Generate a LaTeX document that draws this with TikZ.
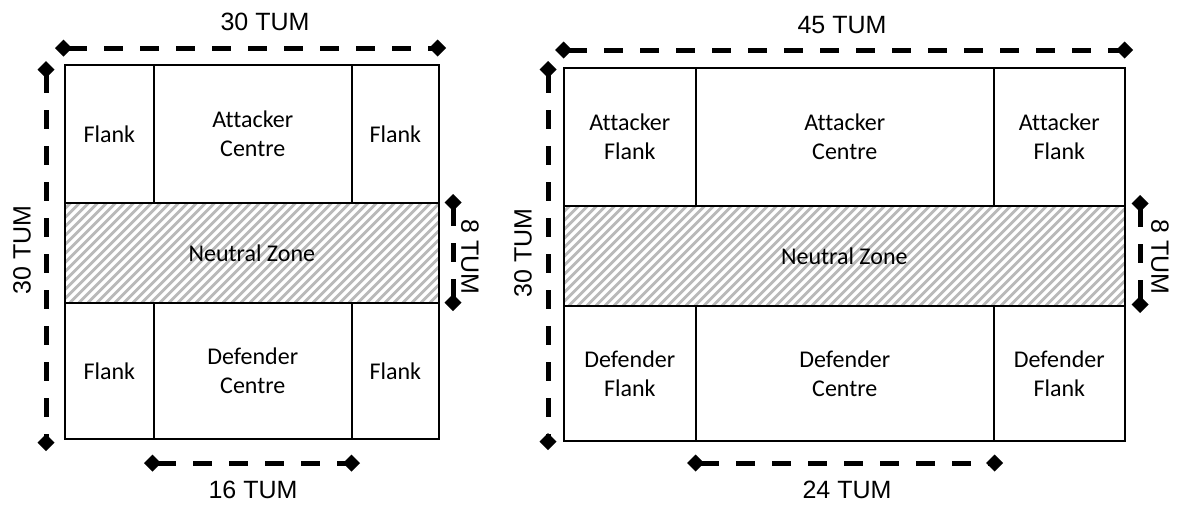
\documentclass[tikz,border=0pt]{standalone}
\usepackage{fontspec}
\setmainfont{Carlito}[Ligatures=NoCommon]
\newfontfamily\dimfont{Liberation Sans}
\usetikzlibrary{arrows.meta}

\tikzset{
  zone/.style={draw,line width=1.6pt,inner sep=0pt,anchor=north west,align=center,
    font=\fontsize{24}{29}\selectfont},
  hatch/.style={line width=2.8pt,gray!55},
  neutral/.style={zone,path picture={
    \foreach \k in {-130,-121,...,580}
      \draw[hatch] ([xshift=\k pt]path picture bounding box.south west) -- ++(130,-130);}},
  dimline/.style={line width=5pt,dash pattern=on 19pt off 17pt,
    {Diamond[length=17pt,width=17pt]}-{Diamond[length=17pt,width=17pt]}},
  dimlabel/.style={font=\dimfont\fontsize{25}{28}\selectfont,inner sep=0pt}
}

\begin{document}
\begin{tikzpicture}[x=1pt,y=-1pt]
\useasboundingbox (0,0) rectangle (1177,504);
% left field
\node[zone,minimum width=89pt,minimum height=138pt] (lAF) at (64,64) {Flank};
\node[zone,minimum width=198pt,minimum height=138pt] (lAC) at (153,64) {Attacker\\Centre};
\node[zone,minimum width=87pt,minimum height=138pt] (lAR) at (351,64) {Flank};
\node[neutral,minimum width=374pt,minimum height=100pt] (lNZ) at (64,202) {Neutral Zone};
\node[zone,minimum width=89pt,minimum height=136pt] (lDF) at (64,302) {Flank};
\node[zone,minimum width=198pt,minimum height=136pt] (lDC) at (153,302) {Defender\\Centre};
\node[zone,minimum width=87pt,minimum height=136pt] (lDR) at (351,302) {Flank};
% right field
\node[zone,minimum width=132pt,minimum height=138pt] (rAF) at (563,67) {Attacker\\Flank};
\node[zone,minimum width=298pt,minimum height=138pt] (rAC) at (695,67) {Attacker\\Centre};
\node[zone,minimum width=131pt,minimum height=138pt] (rAR) at (993,67) {Attacker\\Flank};
\node[neutral,minimum width=561pt,minimum height=100pt] (rNZ) at (563,205) {Neutral Zone};
\node[zone,minimum width=132pt,minimum height=135pt] (rDF) at (563,305) {Defender\\Flank};
\node[zone,minimum width=298pt,minimum height=135pt] (rDC) at (695,305) {Defender\\Centre};
\node[zone,minimum width=131pt,minimum height=135pt] (rDR) at (993,305) {Defender\\Flank};

% left dimensions
\coordinate (lTopA) at (55,48);
\coordinate (lTopB) at (446,48);
\draw[dimline] (lTopA) -- (lTopB);
\node[dimlabel] (lTopLab) at (265,22) {30 TUM};
\coordinate (lSideA) at (46,61);
\coordinate (lSideB) at (46,451);
\draw[dimline] (lSideA) -- (lSideB);
\node[dimlabel,rotate=90] (lSideLab) at (22,250) {30 TUM};
\coordinate (lMidA) at (453,194);
\coordinate (lMidB) at (453,311);
\draw[dimline] (lMidA) -- (lMidB);
\node[dimlabel,rotate=-90] (lMidLab) at (470,257) {8 TUM};
\coordinate (lBotA) at (144,463);
\coordinate (lBotB) at (360,463);
\draw[dimline] (lBotA) -- (lBotB);
\node[dimlabel] (lBotLab) at (253,490) {16 TUM};

% right dimensions
\coordinate (rTopA) at (555,50);
\coordinate (rTopB) at (1133,50);
\draw[dimline] (rTopA) -- (rTopB);
\node[dimlabel] (rTopLab) at (842,25) {45 TUM};
\coordinate (rSideA) at (548,61);
\coordinate (rSideB) at (548,450);
\draw[dimline] (rSideA) -- (rSideB);
\node[dimlabel,rotate=90] (rSideLab) at (523,253) {30 TUM};
\coordinate (rMidA) at (1140,195);
\coordinate (rMidB) at (1140,313);
\draw[dimline] (rMidA) -- (rMidB);
\node[dimlabel,rotate=-90] (rMidLab) at (1160,257) {8 TUM};
\coordinate (rBotA) at (687,463);
\coordinate (rBotB) at (1003,463);
\draw[dimline] (rBotA) -- (rBotB);
\node[dimlabel] (rBotLab) at (847,490) {24 TUM};
\end{tikzpicture}
\end{document}
